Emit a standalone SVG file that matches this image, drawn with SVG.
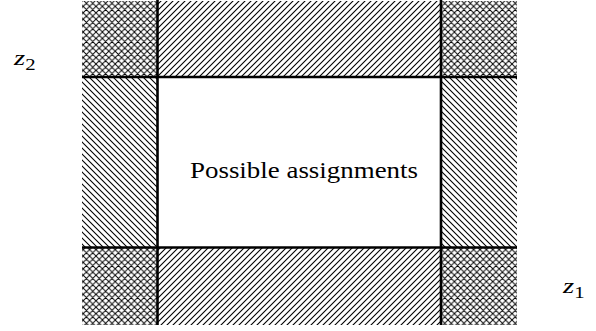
<svg xmlns="http://www.w3.org/2000/svg" width="596" height="331" viewBox="0 0 596 331">
<defs>
<pattern id="ne" patternUnits="userSpaceOnUse" width="6" height="6">
<path d="M-1.5,1.5 L1.5,-1.5 M0,6 L6,0 M4.5,7.5 L7.5,4.5" stroke="#000" stroke-width="1.1"/>
</pattern>
<pattern id="nw" patternUnits="userSpaceOnUse" width="6" height="6">
<path d="M-1.5,4.5 L1.5,7.5 M0,0 L6,6 M4.5,-1.5 L7.5,1.5" stroke="#000" stroke-width="1.1"/>
</pattern>
<pattern id="cross" patternUnits="userSpaceOnUse" width="6.4" height="6.4">
<path d="M-1.6,1.6 L1.6,-1.6 M0,6.4 L6.4,0 M4.8,8 L8,4.8 M-1.6,4.8 L1.6,8 M0,0 L6.4,6.4 M4.8,-1.6 L8,1.6" stroke="#000" stroke-width="0.95"/>
</pattern>
<style>
.ln{stroke:#000;stroke-width:2.6;fill:none}
</style>
</defs>
<g id="regions">
<rect x="82" y="1" width="75.5" height="76" fill="url(#cross)"/>
<rect x="441" y="1" width="76" height="76" fill="url(#cross)"/>
<rect x="82" y="247.5" width="75.5" height="77.5" fill="url(#cross)"/>
<rect x="441" y="247.5" width="76" height="77.5" fill="url(#cross)"/>
<rect x="157.5" y="1" width="283.5" height="76" fill="url(#ne)"/>
<rect x="157.5" y="247.5" width="283.5" height="77.5" fill="url(#ne)"/>
<rect x="82" y="77" width="75.5" height="170.5" fill="url(#nw)"/>
<rect x="441" y="77" width="76" height="170.5" fill="url(#nw)"/>
<rect x="157.5" y="77" width="283.5" height="170.5" fill="#fff"/>
</g>
<g id="connectors">
<line class="ln" x1="157.5" y1="0" x2="157.5" y2="325"/>
<line class="ln" x1="441" y1="0" x2="441" y2="325"/>
<line class="ln" x1="82" y1="77" x2="517" y2="77"/>
<line class="ln" x1="82" y1="247.5" x2="517" y2="247.5"/>
</g>
<g id="center-label">
<text font-family="'Liberation Serif', 'Times New Roman', serif" x="190" y="177.5" font-size="23" textLength="228" lengthAdjust="spacingAndGlyphs" fill="#000">Possible assignments</text>
</g>
<g id="z2">
<text font-family="'Liberation Serif', 'Times New Roman', serif" fill="#000" transform="translate(14,65) scale(1.3,1)" font-size="22"><tspan font-style="italic">z</tspan><tspan font-size="16" dy="5">2</tspan></text>
</g>
<g id="z1">
<text font-family="'Liberation Serif', 'Times New Roman', serif" fill="#000" transform="translate(563,293) scale(1.3,1)" font-size="22"><tspan font-style="italic">z</tspan><tspan font-size="16" dy="5">1</tspan></text>
</g>
</svg>
